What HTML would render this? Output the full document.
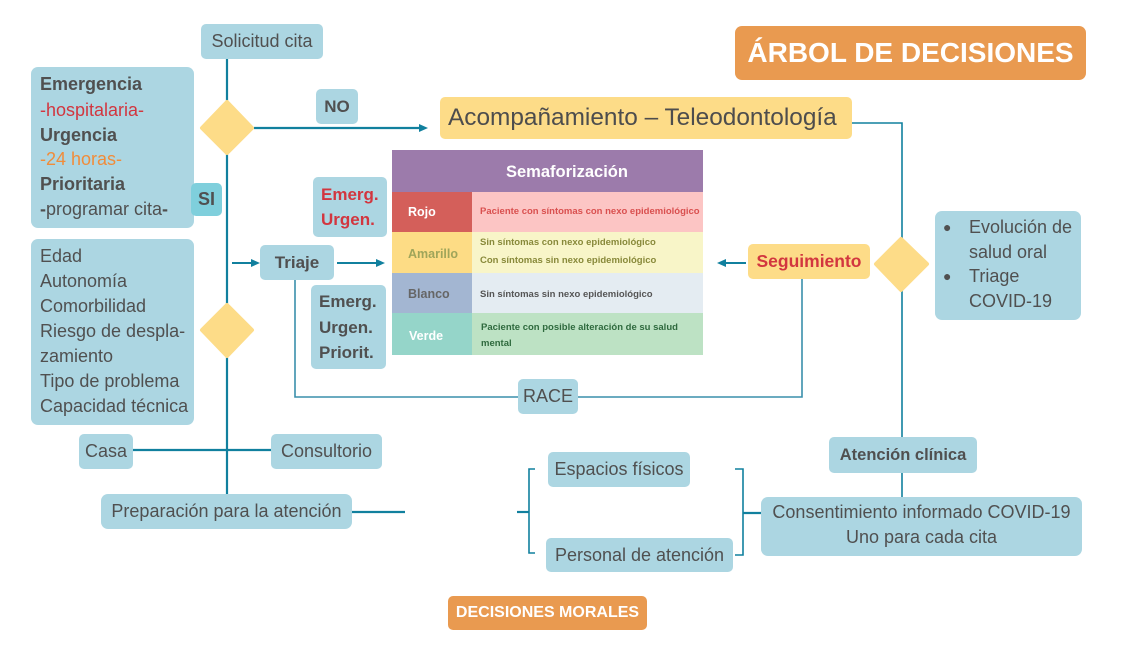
<!DOCTYPE html>
<html><head><meta charset="utf-8">
<style>
*{margin:0;padding:0;box-sizing:border-box}
html,body{width:1132px;height:653px;background:#fff;overflow:hidden}
body{position:relative;font-family:"Liberation Sans",sans-serif;color:#505050}
.b{position:absolute;background:#acd6e2;border-radius:5px;display:flex;align-items:center;justify-content:center;white-space:nowrap;font-size:18px;color:#505050}
.y{background:#fddc88}
.o{background:#e99a50;color:#fff;font-weight:bold}
.t{position:absolute;white-space:nowrap;height:25px;line-height:25px;font-size:18px}
.bd{font-weight:bold}
.red{color:#d2363f}
.tb{position:absolute}
.tc{position:absolute;white-space:nowrap;font-weight:bold}
svg{position:absolute;left:0;top:0}
</style></head><body>

<svg width="1132" height="653" viewBox="0 0 1132 653">
  <g stroke="#11809e" fill="none">
    <line x1="227" y1="58" x2="227" y2="495" stroke-width="2.2"/>
    <line x1="254" y1="128" x2="420" y2="128" stroke-width="2.2"/>
    <line x1="232" y1="263" x2="253" y2="263" stroke-width="2"/>
    <line x1="337" y1="263" x2="378" y2="263" stroke-width="2"/>
    <line x1="133" y1="450" x2="271" y2="450" stroke-width="2.2"/>
    <line x1="352" y1="512" x2="405" y2="512" stroke-width="2.2"/>
    <line x1="517" y1="512" x2="529" y2="512" stroke-width="2.2"/>
    <polyline points="535,469 529,469 529,553 535,553" stroke-width="1.6"/>
    <polyline points="735,469 743,469 743,555 735,555" stroke-width="1.6"/>
    <line x1="743" y1="513" x2="761" y2="513" stroke-width="2.2"/>
    <polyline points="852,123 902,123 902,497" stroke-width="1.6"/>
    <polyline points="295,280 295,397 802,397 802,279" stroke-width="1.6" stroke="#3a8fab"/>
    <line x1="746" y1="263" x2="724" y2="263" stroke-width="2"/>
  </g>
  <g fill="#11809e">
    <polygon points="428,128 419,124 419,132"/>
    <polygon points="260,263 251,259 251,267"/>
    <polygon points="385,263 376,259 376,267"/>
    <polygon points="717,263 726,259 726,267"/>
  </g>
  <g fill="#fddc88" stroke="#fddc88" stroke-width="4" stroke-linejoin="round">
    <polygon points="227,102 252,128 227,153 202,128"/>
    <polygon points="227,305 252,330 227,356 202,330"/>
    <polygon points="901,239 927,264 901,290 876,264"/>
  </g>
</svg>

<!-- Title -->
<div class="b o" style="left:735px;top:26px;width:351px;height:54px;font-size:28px;border-radius:7px">ÁRBOL DE DECISIONES</div>

<div class="b" style="left:201px;top:24px;width:122px;height:35px">Solicitud cita</div>

<!-- Emergencia box -->
<div class="b" style="left:31px;top:67px;width:163px;height:161px;border-radius:7px"></div>
<div class="t bd" style="left:40px;top:72px">Emergencia</div>
<div class="t red" style="left:40px;top:98px">-hospitalaria-</div>
<div class="t bd" style="left:40px;top:123px">Urgencia</div>
<div class="t" style="left:40px;top:147px;color:#f08c3a">-24 horas-</div>
<div class="t bd" style="left:40px;top:172px">Prioritaria</div>
<div class="t" style="left:40px;top:197px"><b>-</b>programar cita<b>-</b></div>

<div class="b bd" style="left:191px;top:183px;width:31px;height:33px;background:#7fcfdc">SI</div>
<div class="b bd" style="left:316px;top:89px;width:42px;height:35px;font-size:17px">NO</div>

<!-- Edad box -->
<div class="b" style="left:31px;top:239px;width:163px;height:186px;border-radius:7px"></div>
<div class="t" style="left:40px;top:244px">Edad</div>
<div class="t" style="left:40px;top:269px">Autonomía</div>
<div class="t" style="left:40px;top:294px">Comorbilidad</div>
<div class="t" style="left:40px;top:319px">Riesgo de despla-</div>
<div class="t" style="left:40px;top:344px">zamiento</div>
<div class="t" style="left:40px;top:369px">Tipo de problema</div>
<div class="t" style="left:40px;top:394px">Capacidad técnica</div>

<div class="b bd" style="left:260px;top:245px;width:74px;height:35px;font-size:17px">Triaje</div>

<!-- Emerg Urgen red -->
<div class="b" style="left:313px;top:177px;width:74px;height:60px"></div>
<div class="t bd red" style="left:321px;top:182px;font-size:17px">Emerg.</div>
<div class="t bd red" style="left:321px;top:207px;font-size:17px">Urgen.</div>

<!-- Emerg Urgen Priorit -->
<div class="b" style="left:311px;top:285px;width:75px;height:84px"></div>
<div class="t bd" style="left:319px;top:289px;font-size:17px">Emerg.</div>
<div class="t bd" style="left:319px;top:315px;font-size:17px">Urgen.</div>
<div class="t bd" style="left:319px;top:340px;font-size:17px">Priorit.</div>

<!-- Acompañamiento -->
<div class="b y" style="left:440px;top:97px;width:412px;height:42px;font-size:24.4px;justify-content:flex-start;padding-left:8px;color:#4d4d4d">Acompañamiento – Teleodontología</div>

<!-- Table -->
<div class="tb" style="left:392px;top:150px;width:311px;height:42px;background:#9c7bab"></div>
<div class="tc" style="left:506px;top:162px;font-size:16.5px;color:#fff;line-height:20px">Semaforización</div>

<div class="tb" style="left:392px;top:192px;width:80px;height:40px;background:#d45f5a"></div>
<div class="tb" style="left:472px;top:192px;width:231px;height:40px;background:#fcc5c4"></div>
<div class="tc" style="left:408px;top:204px;font-size:12.5px;color:#fff;line-height:16px">Rojo</div>
<div class="tc" style="left:480px;top:206px;font-size:9.5px;color:#d9504f;line-height:12px">Paciente con síntomas con nexo epidemiológico</div>

<div class="tb" style="left:392px;top:232px;width:80px;height:41px;background:#fddc85"></div>
<div class="tb" style="left:472px;top:232px;width:231px;height:41px;background:#f8f5c8"></div>
<div class="tc" style="left:408px;top:246px;font-size:12.5px;color:#9fa55a;line-height:16px">Amarillo</div>
<div class="tc" style="left:480px;top:237px;font-size:9.5px;color:#88893a;line-height:12px">Sin síntomas con nexo epidemiológico</div>
<div class="tc" style="left:480px;top:255px;font-size:9.5px;color:#88893a;line-height:12px">Con síntomas sin nexo epidemiológico</div>

<div class="tb" style="left:392px;top:273px;width:80px;height:40px;background:#a3b6d2"></div>
<div class="tb" style="left:472px;top:273px;width:231px;height:40px;background:#e4ecf2"></div>
<div class="tc" style="left:408px;top:286px;font-size:12.5px;color:#666;line-height:16px">Blanco</div>
<div class="tc" style="left:480px;top:289px;font-size:9.5px;color:#555;line-height:12px">Sin síntomas sin nexo epidemiológico</div>

<div class="tb" style="left:392px;top:313px;width:80px;height:42px;background:#95d5c9"></div>
<div class="tb" style="left:472px;top:313px;width:231px;height:42px;background:#bde2c4"></div>
<div class="tc" style="left:409px;top:328px;font-size:12.5px;color:#fff;line-height:16px">Verde</div>
<div class="tc" style="left:481px;top:322px;font-size:9.5px;color:#2f6a3e;line-height:12px">Paciente con posible alteración de su salud</div>
<div class="tc" style="left:481px;top:338px;font-size:9.5px;color:#2f6a3e;line-height:12px">mental</div>

<!-- Seguimiento -->
<div class="b y bd red" style="left:748px;top:244px;width:122px;height:35px;font-size:17.5px">Seguimiento</div>

<!-- Evolución box -->
<div class="b" style="left:935px;top:211px;width:146px;height:109px;border-radius:7px"></div>
<div class="t" style="left:943px;top:215px;font-size:14px">●</div>
<div class="t" style="left:969px;top:215px">Evolución de</div>
<div class="t" style="left:969px;top:240px">salud oral</div>
<div class="t" style="left:943px;top:264px;font-size:14px">●</div>
<div class="t" style="left:969px;top:264px">Triage</div>
<div class="t" style="left:969px;top:289px">COVID-19</div>

<div class="b" style="left:518px;top:379px;width:60px;height:35px">RACE</div>

<div class="b" style="left:79px;top:434px;width:54px;height:35px">Casa</div>
<div class="b" style="left:271px;top:434px;width:111px;height:35px">Consultorio</div>
<div class="b" style="left:101px;top:494px;width:251px;height:35px;border-radius:7px">Preparación para la atención</div>

<div class="b" style="left:548px;top:452px;width:142px;height:35px">Espacios físicos</div>
<div class="b" style="left:546px;top:538px;width:187px;height:34px">Personal de atención</div>

<div class="b bd" style="left:829px;top:437px;width:148px;height:36px;font-size:16.5px">Atención clínica</div>

<div class="b" style="left:761px;top:497px;width:321px;height:59px;border-radius:7px"></div>
<div class="t" style="left:761px;top:500px;width:321px;text-align:center">Consentimiento informado COVID-19</div>
<div class="t" style="left:761px;top:525px;width:321px;text-align:center">Uno para cada cita</div>

<div class="b o" style="left:448px;top:596px;width:199px;height:34px;font-size:16px">DECISIONES MORALES</div>

</body></html>
